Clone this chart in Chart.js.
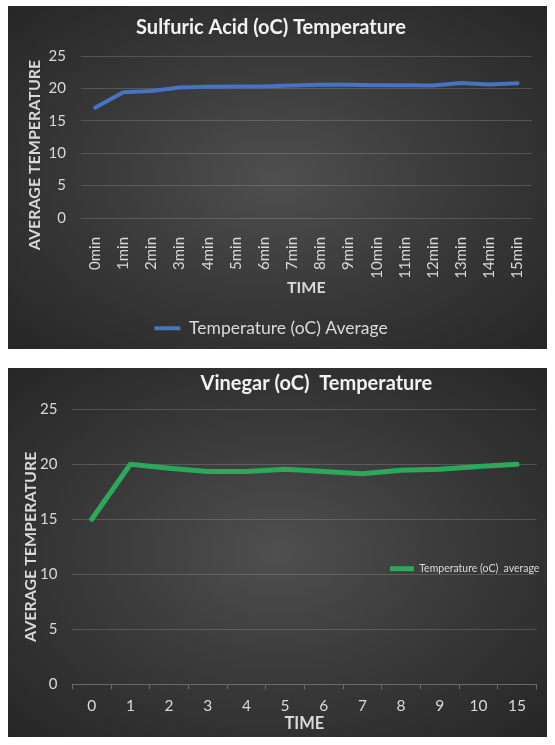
<!DOCTYPE html>
<html><head><meta charset="utf-8">
<script src="https://cdn.jsdelivr.net/npm/chart.js@4.4.1/dist/chart.umd.min.js"></script>
<style>
html,body{margin:0;padding:0;background:#fff;width:555px;height:745px;overflow:hidden;}
.panel{position:absolute;left:8px;width:539px;background:radial-gradient(ellipse farthest-corner at 50% 50%, #4f4f4f 0%, #3b3b3b 45%, #262626 100%);}
#p1{top:6px;height:343px;}
#p2{top:368px;height:369px;}
canvas{display:block;}
</style></head><body>
<div class="panel" id="p1"><canvas id="c1" width="539" height="343"></canvas></div>
<div class="panel" id="p2"><canvas id="c2" width="539" height="369"></canvas></div>
<script>
// ---- data ----
const acidTimes = ['0min','1min','2min','3min','4min','5min','6min','7min','8min','9min','10min','11min','12min','13min','14min','15min'];
const acidTemps = [17.0, 19.4, 19.6, 20.15, 20.25, 20.3, 20.3, 20.45, 20.55, 20.55, 20.5, 20.5, 20.45, 20.85, 20.6, 20.8];
const vinegarTimes = ['0','1','2','3','4','5','6','7','8','9','10','15'];
const vinegarTemps = [15.0, 20.0, 19.65, 19.35, 19.35, 19.55, 19.35, 19.15, 19.45, 19.55, 19.8, 20.0];
const yTicks = [0, 5, 10, 15, 20, 25];

const F = 'Lato, "Open Sans", sans-serif';
const TXT = '#d9d9d9';
const GRID = 'rgba(200,200,200,0.22)';
const BLUE = '#4673c4';
const GREEN = '#2aa95b';

const legendInside = {
  id: 'legendInside',
  afterLayout(chart) {
    const lg = chart.legend, ca = chart.chartArea;
    if (lg) {
      const w = lg.width;
      lg.left = ca.right - w + 13; lg.right = lg.left + w;
      const c = ca.top + ca.height * 0.58;
      lg.top = c - 10; lg.bottom = c + 10; lg.height = 20;
    }
    const t = chart.titleBlock;
    if (t) { t.left += 12; t.right += 12; }
  }
};

new Chart(document.getElementById('c1'), {
  type: 'line',
  data: { labels: acidTimes, datasets: [{
    label: 'Temperature (oC) Average', data: acidTemps,
    borderColor: BLUE, backgroundColor: BLUE, borderWidth: 4, pointRadius: 0, tension: 0,
    borderJoinStyle: 'round', borderCapStyle: 'round'
  }]},
  options: {
    responsive: false, animation: false, devicePixelRatio: 1,
    layout: { padding: { top: 0, left: 0, right: 13, bottom: 2 } },
    plugins: {
      title: { display: true, text: 'Sulfuric Acid (oC) Temperature', color: '#f2f2f2',
        font: { family: F, size: 20, weight: 'bold' }, padding: { top: 10, bottom: 16 } },
      legend: { position: 'bottom', labels: { color: TXT, font: { family: F, size: 17.5 },
        usePointStyle: true, pointStyle: 'line', pointStyleWidth: 26, boxHeight: 10, padding: 10 } },
      tooltip: { enabled: false }
    },
    scales: {
      x: { offset: true, grid: { display: false }, border: { display: false },
        afterFit: s => { s.height = 91.5; },
        ticks: { color: TXT, font: { family: F, size: 15 }, minRotation: 90, maxRotation: 90, autoSkip: false, padding: 11 },
        title: { display: true, text: 'TIME', color: TXT, font: { family: F, size: 16, weight: 'bold' }, padding: { top: 7, bottom: 12 } } },
      y: { min: 0, max: 25, afterBuildTicks: s => { s.ticks = yTicks.map(v => ({ value: v })); },
        afterFit: s => { s.width = 73; },
        ticks: { color: TXT, font: { family: F, size: 15 }, padding: 15 },
        grid: { color: GRID, drawTicks: false }, border: { display: false },
        title: { display: true, text: 'AVERAGE TEMPERATURE\u2003\u2003\u2003', color: TXT,
          font: { family: F, size: 16, weight: 'bold' }, padding: { top: 17.4, bottom: 4.4 } } }
    }
  }
});

new Chart(document.getElementById('c2'), {
  type: 'line',
  data: { labels: vinegarTimes, datasets: [{
    label: 'Temperature (oC)  average', data: vinegarTemps,
    borderColor: GREEN, backgroundColor: GREEN, borderWidth: 5, pointRadius: 0, tension: 0,
    borderJoinStyle: 'round', borderCapStyle: 'round'
  }]},
  plugins: [legendInside],
  options: {
    responsive: false, animation: false, devicePixelRatio: 1,
    layout: { padding: { top: 0, left: 0, right: 10.6, bottom: 0 } },
    plugins: {
      title: { display: true, fullSize: false, text: 'Vinegar (oC)  Temperature', color: '#f2f2f2',
        font: { family: F, size: 20, weight: 'bold' }, padding: { top: 4, bottom: 13.3 } },
      legend: { position: 'chartArea', labels: { color: TXT, font: { family: F, size: 10.5 },
        usePointStyle: true, pointStyle: 'line', pointStyleWidth: 24, boxHeight: 8, padding: 0 } },
      tooltip: { enabled: false }
    },
    scales: {
      x: { offset: true,
        grid: { display: true, offset: true, drawOnChartArea: false, drawTicks: true, tickLength: 5, color: '#6a6a6a' },
        border: { display: true, color: '#6a6a6a' },
        afterFit: s => { s.height = 52.7; },
        ticks: { color: TXT, font: { family: F, size: 15.5 }, padding: 7.7, autoSkip: false, maxRotation: 0 },
        title: { display: true, text: 'TIME', color: TXT, font: { family: F, size: 16.5, weight: 'bold' }, padding: { top: 0, bottom: 3.5 } } },
      y: { min: 0, max: 25, afterBuildTicks: s => { s.ticks = yTicks.map(v => ({ value: v })); },
        afterFit: s => { s.width = 64.4; },
        ticks: { color: TXT, font: { family: F, size: 15 }, padding: 15 },
        grid: { color: GRID, drawTicks: false }, border: { display: false },
        title: { display: true, text: 'AVERAGE TEMPERATURE', color: TXT,
          font: { family: F, size: 16, weight: 'bold' }, padding: { top: 13.4, bottom: 0 } } }
    }
  }
});
</script>
</body></html>
